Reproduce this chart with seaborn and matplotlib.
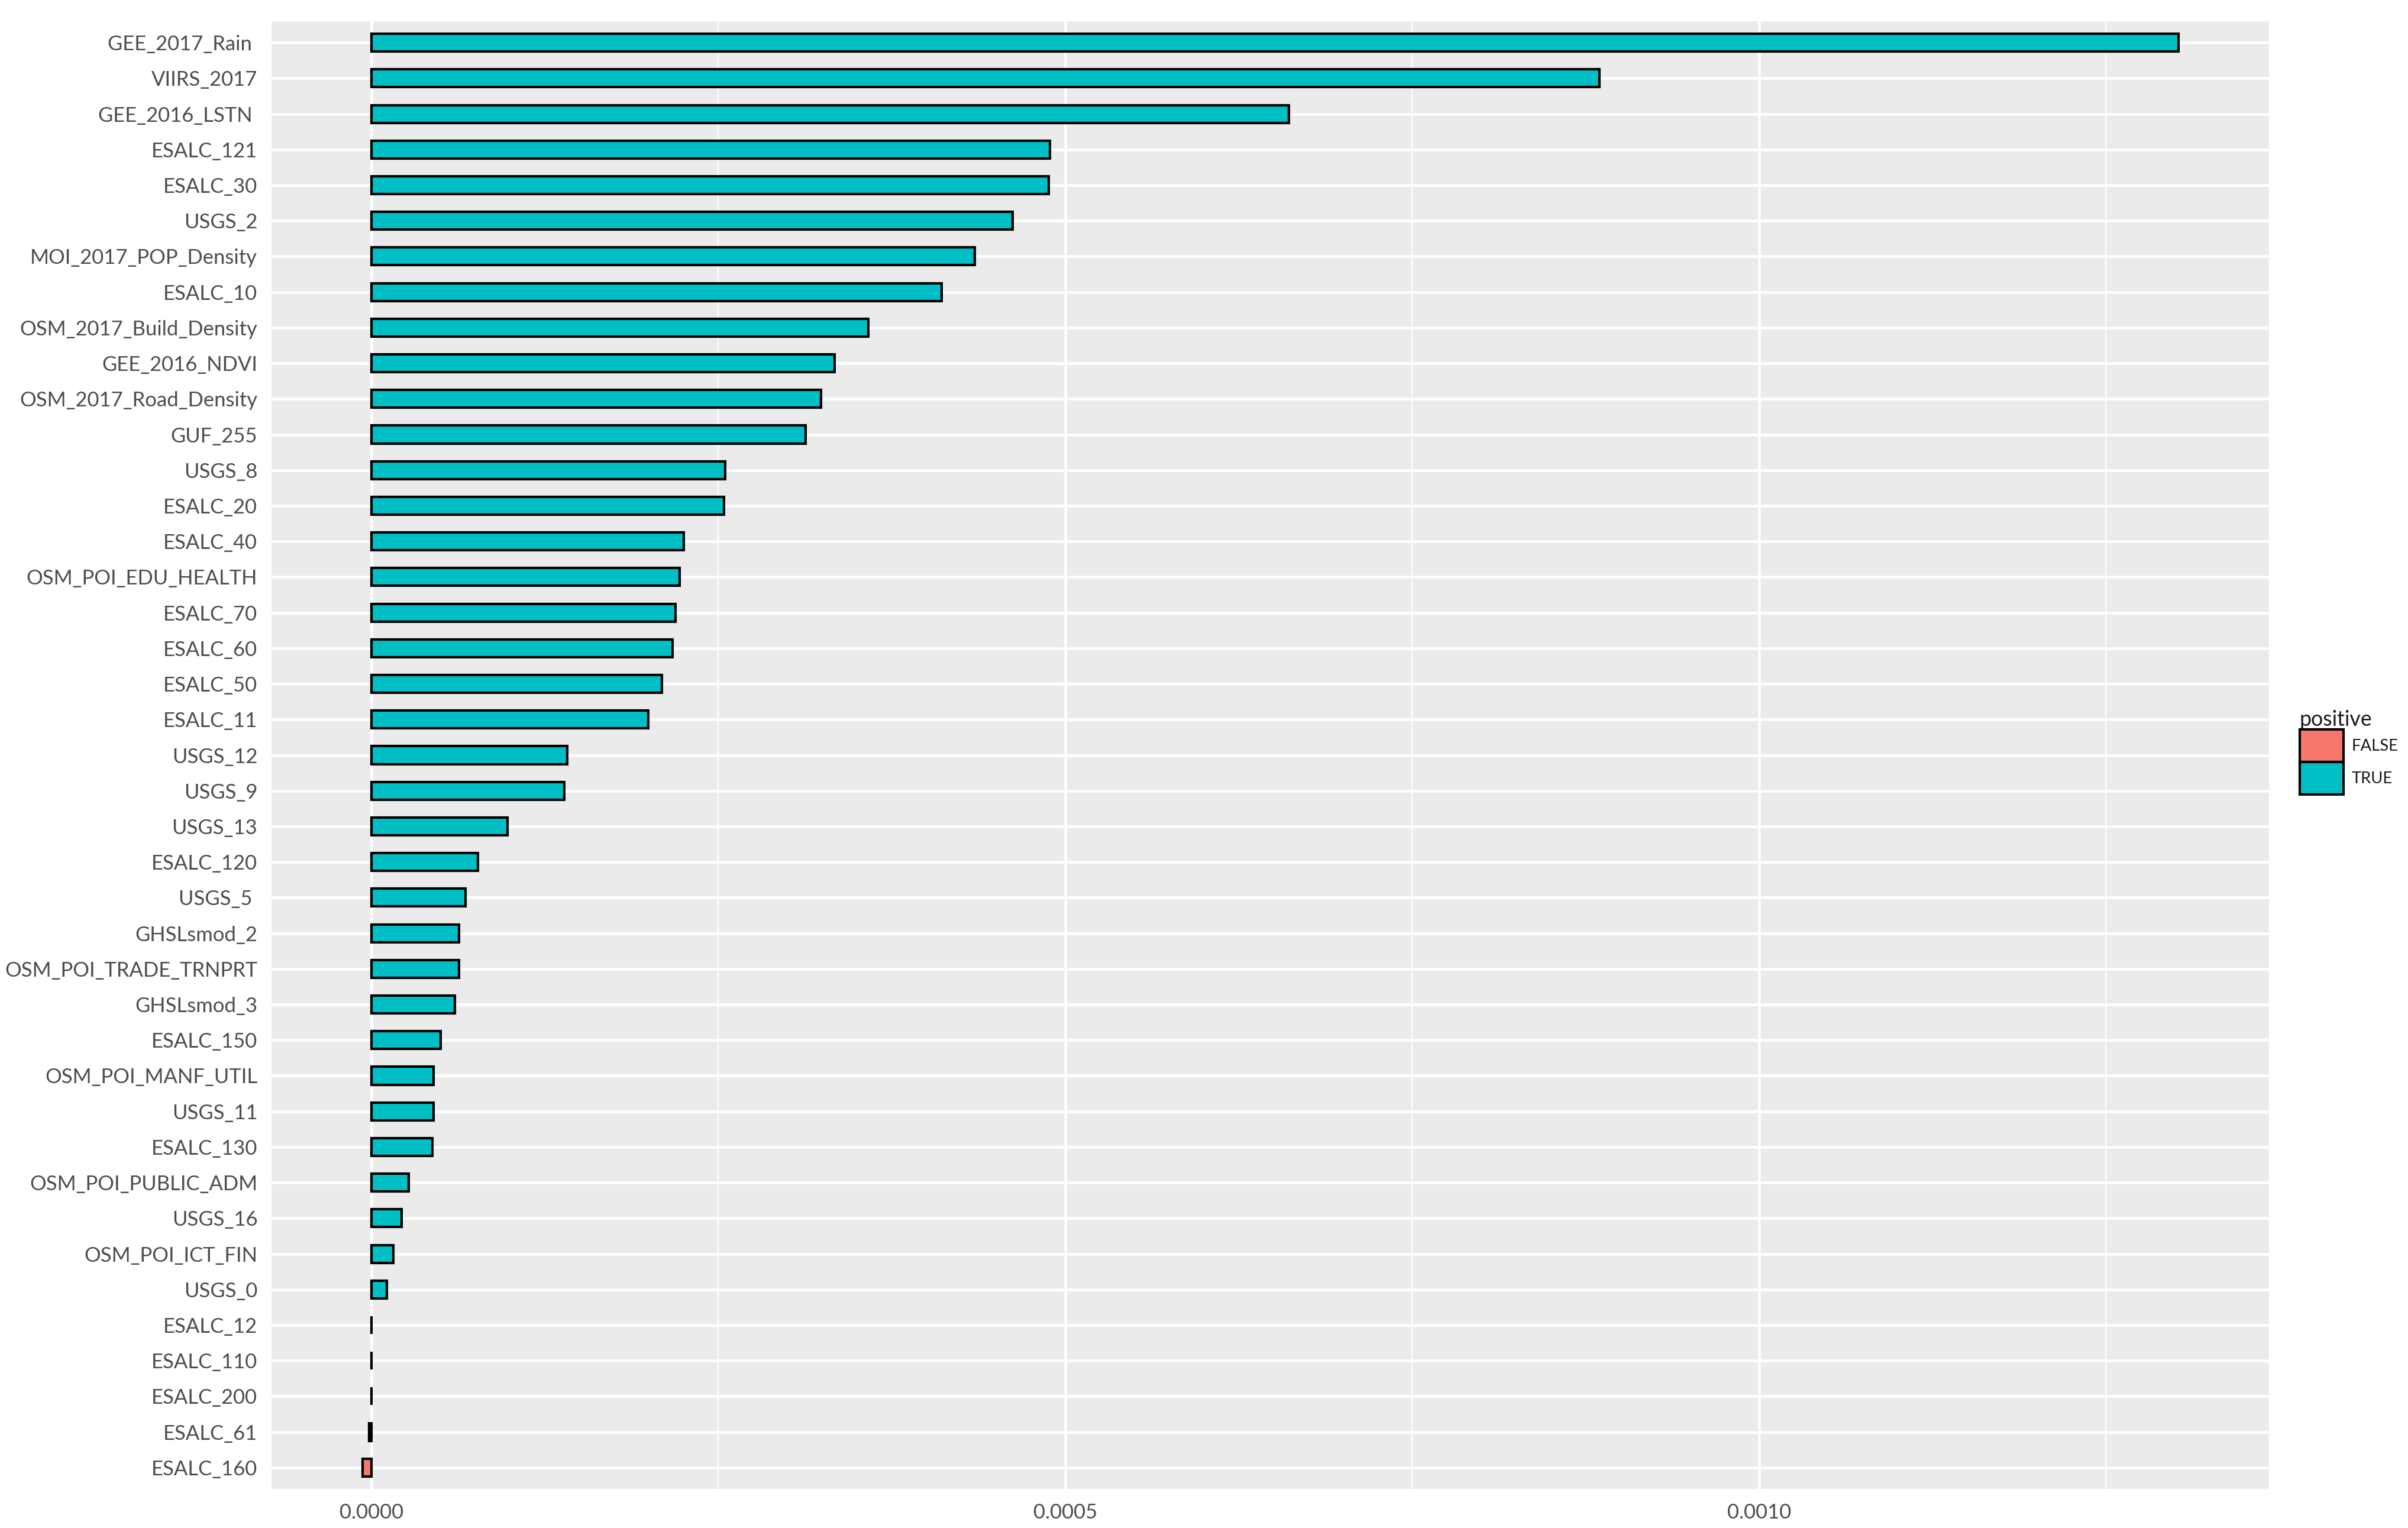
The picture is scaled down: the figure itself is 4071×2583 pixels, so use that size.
import matplotlib
matplotlib.use("Agg")
import matplotlib.pyplot as plt
from matplotlib.ticker import FixedLocator, MultipleLocator
from matplotlib.patches import Patch
import seaborn as sns
import pandas as pd

# ---------------- data ----------------
features = [
    "GEE_2017_Rain ", "VIIRS_2017", "GEE_2016_LSTN ", "ESALC_121", "ESALC_30",
    "USGS_2", "MOI_2017_POP_Density", "ESALC_10", "OSM_2017_Build_Density",
    "GEE_2016_NDVI", "OSM_2017_Road_Density", "GUF_255", "USGS_8", "ESALC_20",
    "ESALC_40", "OSM_POI_EDU_HEALTH", "ESALC_70", "ESALC_60", "ESALC_50",
    "ESALC_11", "USGS_12", "USGS_9", "USGS_13", "ESALC_120", "USGS_5 ",
    "GHSLsmod_2", "OSM_POI_TRADE_TRNPRT", "GHSLsmod_3", "ESALC_150",
    "OSM_POI_MANF_UTIL", "USGS_11", "ESALC_130", "OSM_POI_PUBLIC_ADM",
    "USGS_16", "OSM_POI_ICT_FIN", "USGS_0", "ESALC_12", "ESALC_110",
    "ESALC_200", "ESALC_61", "ESALC_160",
]
values = [
    0.001302, 0.000885, 0.000661, 0.000489, 0.000488,
    0.000462, 0.000435, 0.000411, 0.000358,
    0.000334, 0.000324, 0.000313, 0.000255, 0.000254,
    0.000225, 0.000222, 0.000219, 0.000217, 0.0002095,
    0.0001995, 0.000141, 0.000139, 0.000098, 0.000077, 0.000068,
    0.000063, 0.000063, 0.000060, 0.000050,
    0.000045, 0.000045, 0.000044, 0.000027,
    0.000022, 0.000016, 0.000011, 0.0000002, 0.0000001,
    0.0000001, -0.0000015, -0.0000065,
]
positive = ["TRUE" if v > 0 else "FALSE" for v in values]
legend_levels = ["FALSE", "TRUE"]
legend_colors = ["#F8766D", "#00BFC4"]
x_ticks = [0.0, 0.0005, 0.0010]
x_tick_labels = ["0.0000", "0.0005", "0.0010"]
legend_title = "positive"

df = pd.DataFrame({"feature": features, "value": values, "positive": positive})

# ---------------- style ----------------
sns.set_style("darkgrid", {
    "axes.facecolor": "#EBEBEB",
    "grid.color": "white",
    "axes.edgecolor": "#EBEBEB",
})
plt.rcParams["font.family"] = ["Lato", "DejaVu Sans"]

fig = plt.figure(figsize=(4071 / 300, 2583 / 300), dpi=300)
ax = fig.add_axes([459 / 4071, 1 - 2517 / 2583, (3836 - 459) / 4071, (2517 - 36) / 2583])

palette = dict(zip(legend_levels, legend_colors))
sns.barplot(data=df, x="value", y="feature", hue="positive", hue_order=legend_levels,
            order=features, palette=palette, dodge=False, width=0.5,
            edgecolor="black", linewidth=1.0, saturation=1, ax=ax, legend=False)

vmin, vmax = min(min(values), 0), max(values)
pad = (vmax - vmin) * 0.05
ax.set_xlim(vmin - pad, vmax + pad)
ax.set_ylim(len(features) - 1 + 0.6, -0.6)

ax.xaxis.set_major_locator(FixedLocator(x_ticks))
ax.set_xticklabels(x_tick_labels)
ax.xaxis.set_minor_locator(MultipleLocator(0.00025))
ax.grid(which="major", axis="both", color="white", linewidth=1.1)
ax.grid(which="minor", axis="x", color="white", linewidth=0.55)
ax.set_axisbelow(True)
for s in ax.spines.values():
    s.set_visible(False)

ax.tick_params(axis="both", which="major", length=2.2, width=0.7, color="#333333",
               labelcolor="#4D4D4D", labelsize=8.3, pad=3.5)
ax.tick_params(axis="x", which="minor", length=0)
ax.set_xlabel("")
ax.set_ylabel("")

handles = [Patch(facecolor=c, edgecolor="black", linewidth=1.0) for c in legend_colors]
leg = fig.legend(handles, legend_levels, title=legend_title, loc="upper left",
                 bbox_to_anchor=(3888 / 4071, 1 - 1200 / 2583), frameon=False,
                 fontsize=6.6, title_fontsize=8.6, handlelength=2.7, handleheight=2.7,
                 labelspacing=0.0, handletextpad=0.5, borderaxespad=0, borderpad=0)
leg._legend_box.align = "left"
for t in leg.get_texts():
    t.set_color("#1A1A1A")
leg.get_title().set_color("#1A1A1A")

fig.savefig("out.png", dpi=300)
